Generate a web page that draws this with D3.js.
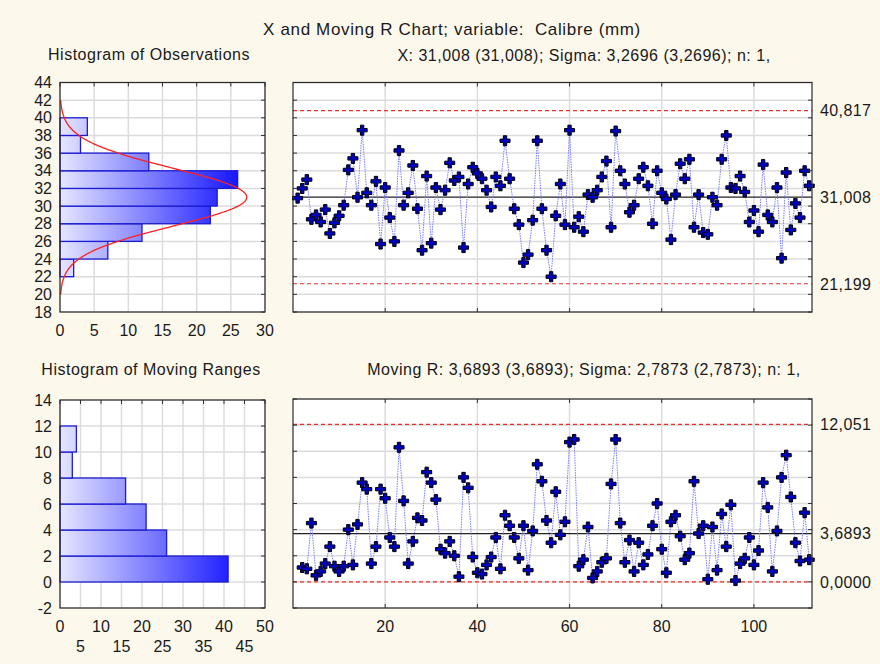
<!DOCTYPE html>
<html>
<head>
<meta charset="utf-8">
<script src="https://cdn.jsdelivr.net/npm/d3@7"></script>
<style>
  body { margin: 0; background: #fdf8ec; }
  svg { display: block; font-family: "Liberation Sans", Arial, sans-serif; }
  .pre { white-space: pre; }
</style>
</head>
<body>
<svg id="chart" width="880" height="664"></svg>
<script>
// observations (Calibre, mm)
const observations = [
  30.9, 32.0, 33.0, 28.5, 29.0, 28.2, 29.6, 26.9, 28.1, 28.9,
  30.1, 34.1, 35.4, 31.0, 38.6, 31.5, 30.1, 32.8, 25.7, 32.1,
  28.7, 26.0, 36.3, 30.1, 31.5, 34.6, 29.7, 25.0, 33.4, 25.8,
  32.1, 29.6, 31.8, 34.9, 32.9, 33.3, 25.3, 32.5, 34.4, 33.7,
  33.1, 31.8, 29.9, 33.3, 32.3, 37.4, 33.1, 29.7, 27.9, 23.6,
  24.5, 28.4, 37.4, 29.7, 25.0, 22.0, 28.9, 32.5, 27.9, 38.6,
  27.6, 28.8, 27.1, 31.3, 31.0, 31.8, 33.3, 35.1, 27.6, 38.5,
  34.0, 32.5, 29.3, 30.1, 33.1, 34.4, 32.3, 28.0, 34.0, 31.5,
  30.8, 26.2, 31.3, 34.8, 33.1, 35.3, 27.6, 31.3, 27.0, 26.8,
  31.0, 30.1, 35.3, 38.0, 32.1, 32.0, 33.4, 31.6, 28.2, 29.5,
  27.1, 34.7, 29.0, 28.2, 32.1, 24.1, 33.8, 27.3, 30.3, 28.7,
  34.0, 32.3
];

// moving ranges (sample 2..112)
const movingRanges = [
  1.1, 1.0, 4.5, 0.5, 0.8, 1.4, 2.7, 1.2, 0.8, 1.2,
  4.0, 1.3, 4.4, 7.6, 7.1, 1.4, 2.7, 7.1, 6.4, 3.4,
  2.7, 10.3, 6.2, 1.4, 3.1, 4.9, 4.7, 8.4, 7.6, 6.3,
  2.5, 2.2, 3.1, 2.0, 0.4, 8.0, 7.2, 1.9, 0.7, 0.6,
  1.3, 1.9, 3.4, 1.0, 5.1, 4.3, 3.4, 1.8, 4.3, 0.9,
  3.9, 9.0, 7.7, 4.7, 3.0, 6.9, 3.6, 4.6, 10.7, 10.9,
  1.2, 1.7, 4.2, 0.3, 0.8, 1.5, 1.8, 7.5, 10.9, 4.5,
  1.5, 3.2, 0.8, 3.0, 1.3, 2.1, 4.3, 6.0, 2.5, 0.7,
  4.6, 5.1, 3.5, 1.7, 2.2, 7.7, 3.7, 4.3, 0.2, 4.2,
  0.9, 5.2, 2.7, 5.9, 0.1, 1.4, 1.8, 3.4, 1.3, 2.4,
  7.6, 5.7, 0.8, 3.9, 8.0, 9.7, 6.5, 3.0, 1.6, 5.3,
  1.7
];

// histogram of observations (bins of 2 mm)
const obsBinStart = [22, 24, 26, 28, 30, 32, 34, 36, 38];
const obsBinCount = [2, 7, 12, 22, 23, 26, 13, 3, 4];

// histogram of moving ranges
const mrBinStart = [0, 2, 4, 6, 8, 10];
const mrBinCount = [41, 26, 21, 16, 3, 4];

// control limits
const xCenter = 31.008, xSigma = 3.2696, xUCL = 40.817, xLCL = 21.199;
const mrCenter = 3.6893, mrUCL = 12.051, mrLCL = 0.0;
const xLimitLabels = ["40,817", "31,008", "21,199"];
const mrLimitLabels = ["12,051", "3,6893", "0,0000"];

const titleText = "X and Moving R Chart; variable:  Calibre (mm)";
const xStatsText = "X: 31,008 (31,008); Sigma: 3,2696 (3,2696); n: 1,";
const mrStatsText = "Moving R: 3,6893 (3,6893); Sigma: 2,7873 (2,7873); n: 1,";

const svg = d3.select('#chart');
const textColor = '#1a1a1a';
const gridColor = '#dcdcdc';
const fs = 16;

// gradient for histogram bars
const defs = svg.append('defs');
const grad = defs.append('linearGradient')
  .attr('id', 'barGrad')
  .attr('gradientUnits', 'userSpaceOnUse')
  .attr('x1', 60).attr('x2', 240).attr('y1', 0).attr('y2', 0);
grad.append('stop').attr('offset', '0%').attr('stop-color', '#e6e6ff');
grad.append('stop').attr('offset', '100%').attr('stop-color', '#1414ff');

function label(x, y, txt, size, spacing) {
  return svg.append('text').attr('class', 'pre')
    .attr('x', x).attr('y', y).attr('text-anchor', 'middle')
    .attr('font-size', size).attr('letter-spacing', spacing)
    .attr('fill', textColor).text(txt);
}

// titles
label(452, 35, titleText, 17, 0.65);
label(149, 60, 'Histogram of Observations', fs, 0.5);
label(584, 60.5, xStatsText, fs, 0.5);
label(151, 375, 'Histogram of Moving Ranges', fs, 0.5);
label(584, 375, mrStatsText, fs, 0.5);

function frame(x0, x1, y0, y1) {
  return svg.append('rect').attr('x', x0).attr('y', y0)
    .attr('width', x1 - x0).attr('height', y1 - y0)
    .attr('fill', '#fff');
}

function border(x0, x1, y0, y1) {
  svg.append('rect').attr('x', x0).attr('y', y0)
    .attr('width', x1 - x0).attr('height', y1 - y0)
    .attr('fill', 'none').attr('stroke', '#2a2a2a').attr('stroke-width', 1.2);
}

function drawHistogram(opts) {
  const { left, right, top, bottom, xDomain, xTicks, yDomain, yTicks, starts, counts, curve, twoRows } = opts;
  const x = d3.scaleLinear().domain(xDomain).range([left, right]);
  const y = d3.scaleLinear().domain(yDomain).range([bottom, top]);
  frame(left, right, top, bottom);

  const g = svg.append('g');
  g.selectAll('.vg').data(xTicks).enter().append('line')
    .attr('x1', d => x(d)).attr('x2', d => x(d)).attr('y1', top).attr('y2', bottom)
    .attr('stroke', gridColor).attr('stroke-width', 1.5);
  g.selectAll('.hg').data(yTicks).enter().append('line')
    .attr('x1', left).attr('x2', right).attr('y1', d => y(d)).attr('y2', d => y(d))
    .attr('stroke', gridColor).attr('stroke-width', 1.5);

  g.selectAll('.bar').data(starts).enter().append('rect')
    .attr('x', x(0))
    .attr('y', (d) => y(d + 2))
    .attr('width', (d, i) => x(counts[i]) - x(0))
    .attr('height', d => y(d) - y(d + 2))
    .attr('fill', 'url(#barGrad)')
    .attr('stroke', '#1c1cd0').attr('stroke-width', 1.3);

  if (curve) {
    const pts = d3.range(curve.from, curve.to + 0.001, 0.1);
    const line = d3.line().x(v => x(curve.f(v))).y(v => y(v)).curve(d3.curveBasis);
    g.append('path').attr('d', line(pts)).attr('fill', 'none')
      .attr('stroke', '#ff2020').attr('stroke-width', 1.3);
  }

  // ticks (inside)
  g.selectAll('.yt').data(yTicks).enter().append('line')
    .attr('x1', right - 4).attr('x2', right).attr('y1', d => y(d)).attr('y2', d => y(d))
    .attr('stroke', '#333');
  g.selectAll('.xt').data(xTicks).enter().append('line')
    .attr('x1', d => x(d)).attr('x2', d => x(d)).attr('y1', top).attr('y2', top + 4)
    .attr('stroke', '#333');

  border(left, right, top, bottom);

  // labels
  g.selectAll('.yl').data(yTicks).enter().append('text')
    .attr('x', left - 8).attr('y', d => y(d) + 5.5).attr('text-anchor', 'end')
    .attr('font-size', fs).attr('fill', textColor).text(d => d);
  g.selectAll('.xl').data(xTicks).enter().append('text')
    .attr('x', d => x(d))
    .attr('y', (d, i) => (twoRows && i % 2 === 1) ? bottom + 43.5 : bottom + 24)
    .attr('text-anchor', 'middle')
    .attr('font-size', fs).attr('fill', textColor).text(d => d);
}

function drawControl(opts) {
  const { left, right, top, bottom, yDomain, yTicks, start, values, center, ucl, lcl, limitLabels, showX } = opts;
  const x = d3.scaleLinear().domain([0, 112.6]).range([left, right]);
  const y = d3.scaleLinear().domain(yDomain).range([bottom, top]);
  const xTicks = [20, 40, 60, 80, 100];
  frame(left, right, top, bottom);

  const g = svg.append('g');
  g.selectAll('.vg').data(xTicks).enter().append('line')
    .attr('x1', d => x(d)).attr('x2', d => x(d)).attr('y1', top).attr('y2', bottom)
    .attr('stroke', gridColor).attr('stroke-width', 1.5);
  g.selectAll('.hg').data(yTicks).enter().append('line')
    .attr('x1', left).attr('x2', right).attr('y1', d => y(d)).attr('y2', d => y(d))
    .attr('stroke', gridColor).attr('stroke-width', 1.5);

  [ucl, lcl].forEach(v => {
    g.append('line').attr('x1', left).attr('x2', right).attr('y1', y(v)).attr('y2', y(v))
      .attr('stroke', '#e8302a').attr('stroke-width', 1.2).attr('stroke-dasharray', '4,3');
  });
  g.append('line').attr('x1', left).attr('x2', right).attr('y1', y(center)).attr('y2', y(center))
    .attr('stroke', '#222').attr('stroke-width', 1.2);

  const line = d3.line().x((d, i) => x(start + i)).y(d => y(d));
  g.append('path').attr('d', line(values)).attr('fill', 'none')
    .attr('stroke', '#7a7aff').attr('stroke-width', 1).attr('stroke-dasharray', '1.5,1');

  const sym = d3.symbol().type(d3.symbolCross).size(56);
  g.selectAll('.pt').data(values).enter().append('path')
    .attr('d', sym)
    .attr('transform', (d, i) => `translate(${x(start + i)},${y(d)})`)
    .attr('fill', '#0000c0').attr('stroke', '#000').attr('stroke-width', 1);

  // inside ticks
  g.selectAll('.ltk').data(yTicks).enter().append('line')
    .attr('x1', left).attr('x2', left + 4).attr('y1', d => y(d)).attr('y2', d => y(d))
    .attr('stroke', '#333');
  g.selectAll('.rtk').data(yTicks).enter().append('line')
    .attr('x1', right - 4).attr('x2', right).attr('y1', d => y(d)).attr('y2', d => y(d))
    .attr('stroke', '#333');
  g.selectAll('.ttk').data(xTicks).enter().append('line')
    .attr('x1', d => x(d)).attr('x2', d => x(d)).attr('y1', top).attr('y2', top + 4)
    .attr('stroke', '#333');
  g.selectAll('.btk').data(xTicks).enter().append('line')
    .attr('x1', d => x(d)).attr('x2', d => x(d)).attr('y1', bottom - 4).attr('y2', bottom)
    .attr('stroke', '#333');

  border(left, right, top, bottom);

  [ucl, center, lcl].forEach((v, i) => {
    g.append('text').attr('x', right + 8).attr('y', y(v) + 5.8)
      .attr('font-size', fs).attr('letter-spacing', 0.4)
      .attr('fill', textColor).text(limitLabels[i]);
  });

  if (showX) {
    g.selectAll('.xl').data(xTicks).enter().append('text')
      .attr('x', d => x(d)).attr('y', bottom + 23.5).attr('text-anchor', 'middle')
      .attr('font-size', fs).attr('fill', textColor).text(d => d);
  }
}

const binWidth = 2;
const normalScale = observations.length * binWidth / (xSigma * Math.sqrt(2 * Math.PI));

drawHistogram({
  left: 60, right: 265, top: 82.5, bottom: 312,
  xDomain: [0, 30], xTicks: [0, 5, 10, 15, 20, 25, 30],
  yDomain: [18, 44], yTicks: d3.range(18, 45, 2),
  starts: obsBinStart, counts: obsBinCount,
  curve: { from: 20, to: 42, f: v => normalScale * Math.exp(-0.5 * ((v - xCenter) / xSigma) ** 2) },
  twoRows: false
});

drawHistogram({
  left: 60, right: 265, top: 400, bottom: 608,
  xDomain: [0, 50], xTicks: d3.range(0, 51, 5),
  yDomain: [-2, 14], yTicks: d3.range(-2, 15, 2),
  starts: mrBinStart, counts: mrBinCount,
  curve: null, twoRows: true
});

drawControl({
  left: 293, right: 812, top: 82.5, bottom: 312,
  yDomain: [18, 44], yTicks: d3.range(18, 45, 2),
  start: 1, values: observations,
  center: xCenter, ucl: xUCL, lcl: xLCL, limitLabels: xLimitLabels, showX: false
});

drawControl({
  left: 293, right: 812, top: 399, bottom: 608,
  yDomain: [-2, 14], yTicks: d3.range(-2, 15, 2),
  start: 2, values: movingRanges,
  center: mrCenter, ucl: mrUCL, lcl: mrLCL, limitLabels: mrLimitLabels, showX: true
});
</script>
</body>
</html>
